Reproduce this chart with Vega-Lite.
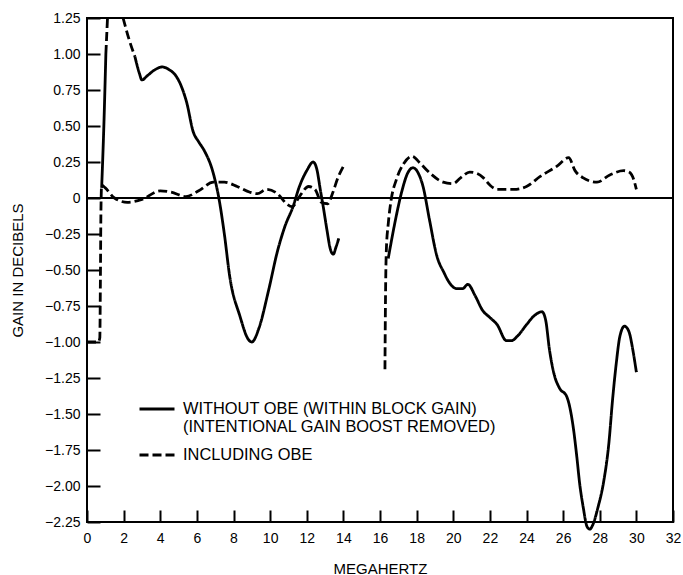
{
  "$schema": "https://vega.github.io/schema/vega-lite/v6.json",
  "width": 586,
  "height": 504,
  "autosize": "none",
  "padding": {"left": 87, "top": 18, "right": 10, "bottom": 53},
  "background": "white",
  "config": {
    "view": {"stroke": "black", "strokeWidth": 2},
    "font": "Liberation Sans"
  },
  "data": {
    "values": [
      {"s": "with", "g": "d1", "x": 0, "y": -1.0},
      {"s": "with", "g": "d1", "x": 0.62, "y": -1.0},
      {"s": "with", "g": "d1", "x": 0.7, "y": -0.97},
      {"s": "with", "g": "d1", "x": 0.73, "y": -0.6},
      {"s": "with", "g": "d1", "x": 0.76, "y": -0.1},
      {"s": "with", "g": "d1", "x": 0.8, "y": 0.09},
      {"s": "with", "g": "d1", "x": 1.0, "y": 0.07},
      {"s": "with", "g": "d1", "x": 1.5, "y": 0.0},
      {"s": "with", "g": "d1", "x": 2.2, "y": -0.03},
      {"s": "with", "g": "d1", "x": 3.0, "y": -0.01},
      {"s": "with", "g": "d1", "x": 4.0, "y": 0.05},
      {"s": "with", "g": "d1", "x": 4.6, "y": 0.04},
      {"s": "with", "g": "d1", "x": 5.4, "y": 0.01},
      {"s": "with", "g": "d1", "x": 6.1, "y": 0.05},
      {"s": "with", "g": "d1", "x": 6.9, "y": 0.11},
      {"s": "with", "g": "d1", "x": 7.5, "y": 0.11},
      {"s": "with", "g": "d1", "x": 8.2, "y": 0.08},
      {"s": "with", "g": "d1", "x": 8.9, "y": 0.04},
      {"s": "with", "g": "d1", "x": 9.3, "y": 0.03},
      {"s": "with", "g": "d1", "x": 9.8, "y": 0.06},
      {"s": "with", "g": "d1", "x": 10.4, "y": 0.03},
      {"s": "with", "g": "d1", "x": 10.9, "y": -0.04},
      {"s": "with", "g": "d1", "x": 11.2, "y": -0.06},
      {"s": "with", "g": "d1", "x": 11.6, "y": 0.01},
      {"s": "with", "g": "d1", "x": 12.1, "y": 0.08},
      {"s": "with", "g": "d1", "x": 12.45, "y": 0.06},
      {"s": "with", "g": "d1", "x": 12.8, "y": -0.03},
      {"s": "with", "g": "d1", "x": 13.15, "y": -0.04},
      {"s": "with", "g": "d1", "x": 13.4, "y": 0.03},
      {"s": "with", "g": "d1", "x": 13.7, "y": 0.14},
      {"s": "with", "g": "d1", "x": 14.0, "y": 0.22},
      {"s": "with", "g": "d2", "x": 1.03, "y": 1.0},
      {"s": "with", "g": "d2", "x": 1.12, "y": 1.25},
      {"s": "with", "g": "d3", "x": 1.97, "y": 1.25},
      {"s": "with", "g": "d3", "x": 2.3, "y": 1.1},
      {"s": "with", "g": "d3", "x": 2.62, "y": 0.98},
      {"s": "with", "g": "d4", "x": 16.27, "y": -1.19},
      {"s": "with", "g": "d4", "x": 16.3, "y": -0.7},
      {"s": "with", "g": "d4", "x": 16.35, "y": -0.35},
      {"s": "with", "g": "d4", "x": 16.45, "y": -0.18},
      {"s": "with", "g": "d4", "x": 16.6, "y": -0.02},
      {"s": "with", "g": "d4", "x": 16.9, "y": 0.13},
      {"s": "with", "g": "d4", "x": 17.3, "y": 0.24},
      {"s": "with", "g": "d4", "x": 17.75, "y": 0.29},
      {"s": "with", "g": "d4", "x": 18.2, "y": 0.24},
      {"s": "with", "g": "d4", "x": 18.75, "y": 0.17},
      {"s": "with", "g": "d4", "x": 19.45, "y": 0.11},
      {"s": "with", "g": "d4", "x": 20.0, "y": 0.1},
      {"s": "with", "g": "d4", "x": 20.4, "y": 0.14},
      {"s": "with", "g": "d4", "x": 20.9, "y": 0.18},
      {"s": "with", "g": "d4", "x": 21.3, "y": 0.17},
      {"s": "with", "g": "d4", "x": 21.65, "y": 0.14},
      {"s": "with", "g": "d4", "x": 22.0, "y": 0.09},
      {"s": "with", "g": "d4", "x": 22.4, "y": 0.06},
      {"s": "with", "g": "d4", "x": 23.3, "y": 0.06},
      {"s": "with", "g": "d4", "x": 24.0, "y": 0.08},
      {"s": "with", "g": "d4", "x": 24.75, "y": 0.15},
      {"s": "with", "g": "d4", "x": 25.65, "y": 0.22},
      {"s": "with", "g": "d4", "x": 26.3, "y": 0.28},
      {"s": "with", "g": "d4", "x": 26.65, "y": 0.19},
      {"s": "with", "g": "d4", "x": 27.1, "y": 0.14},
      {"s": "with", "g": "d4", "x": 27.85, "y": 0.11},
      {"s": "with", "g": "d4", "x": 28.55, "y": 0.16},
      {"s": "with", "g": "d4", "x": 29.3, "y": 0.19},
      {"s": "with", "g": "d4", "x": 29.6, "y": 0.18},
      {"s": "with", "g": "d4", "x": 29.85, "y": 0.13},
      {"s": "with", "g": "d4", "x": 30.0, "y": 0.06},
      {"s": "without", "g": "s1", "x": 0.8, "y": 0.07},
      {"s": "without", "g": "s1", "x": 0.92, "y": 0.5},
      {"s": "without", "g": "s1", "x": 1.03, "y": 1.0},
      {"s": "without", "g": "s2", "x": 2.62, "y": 0.98},
      {"s": "without", "g": "s2", "x": 2.85, "y": 0.87},
      {"s": "without", "g": "s2", "x": 3.0, "y": 0.82},
      {"s": "without", "g": "s2", "x": 3.3, "y": 0.85},
      {"s": "without", "g": "s2", "x": 3.7, "y": 0.89},
      {"s": "without", "g": "s2", "x": 4.1, "y": 0.91},
      {"s": "without", "g": "s2", "x": 4.5, "y": 0.89},
      {"s": "without", "g": "s2", "x": 4.9, "y": 0.84},
      {"s": "without", "g": "s2", "x": 5.2, "y": 0.76},
      {"s": "without", "g": "s2", "x": 5.45, "y": 0.66},
      {"s": "without", "g": "s2", "x": 5.8, "y": 0.46},
      {"s": "without", "g": "s2", "x": 6.1, "y": 0.39},
      {"s": "without", "g": "s2", "x": 6.4, "y": 0.33},
      {"s": "without", "g": "s2", "x": 6.9, "y": 0.17},
      {"s": "without", "g": "s2", "x": 7.2, "y": 0.0},
      {"s": "without", "g": "s2", "x": 7.5, "y": -0.25},
      {"s": "without", "g": "s2", "x": 7.8, "y": -0.55},
      {"s": "without", "g": "s2", "x": 8.35, "y": -0.82},
      {"s": "without", "g": "s2", "x": 8.8, "y": -0.98},
      {"s": "without", "g": "s2", "x": 9.0, "y": -1.0},
      {"s": "without", "g": "s2", "x": 9.4, "y": -0.9},
      {"s": "without", "g": "s2", "x": 9.9, "y": -0.65},
      {"s": "without", "g": "s2", "x": 10.4, "y": -0.37},
      {"s": "without", "g": "s2", "x": 10.8, "y": -0.2},
      {"s": "without", "g": "s2", "x": 11.25, "y": -0.06},
      {"s": "without", "g": "s2", "x": 11.6, "y": 0.08},
      {"s": "without", "g": "s2", "x": 12.0, "y": 0.19},
      {"s": "without", "g": "s2", "x": 12.35, "y": 0.25},
      {"s": "without", "g": "s2", "x": 12.55, "y": 0.2},
      {"s": "without", "g": "s2", "x": 12.75, "y": 0.05},
      {"s": "without", "g": "s2", "x": 12.9, "y": -0.06},
      {"s": "without", "g": "s2", "x": 13.1, "y": -0.22},
      {"s": "without", "g": "s2", "x": 13.3, "y": -0.36},
      {"s": "without", "g": "s2", "x": 13.45, "y": -0.39},
      {"s": "without", "g": "s2", "x": 13.6, "y": -0.34},
      {"s": "without", "g": "s2", "x": 13.75, "y": -0.28},
      {"s": "without", "g": "s3", "x": 16.45, "y": -0.42},
      {"s": "without", "g": "s3", "x": 16.8, "y": -0.18},
      {"s": "without", "g": "s3", "x": 17.2, "y": 0.05},
      {"s": "without", "g": "s3", "x": 17.5, "y": 0.17},
      {"s": "without", "g": "s3", "x": 17.8, "y": 0.21},
      {"s": "without", "g": "s3", "x": 18.1, "y": 0.17},
      {"s": "without", "g": "s3", "x": 18.35, "y": 0.08},
      {"s": "without", "g": "s3", "x": 18.7, "y": -0.15},
      {"s": "without", "g": "s3", "x": 19.1, "y": -0.4},
      {"s": "without", "g": "s3", "x": 19.5, "y": -0.52},
      {"s": "without", "g": "s3", "x": 19.8, "y": -0.59},
      {"s": "without", "g": "s3", "x": 20.2, "y": -0.63},
      {"s": "without", "g": "s3", "x": 20.5, "y": -0.63},
      {"s": "without", "g": "s3", "x": 20.8, "y": -0.6},
      {"s": "without", "g": "s3", "x": 21.2, "y": -0.68},
      {"s": "without", "g": "s3", "x": 21.6, "y": -0.78},
      {"s": "without", "g": "s3", "x": 22.0, "y": -0.83},
      {"s": "without", "g": "s3", "x": 22.4, "y": -0.88},
      {"s": "without", "g": "s3", "x": 22.9, "y": -0.99},
      {"s": "without", "g": "s3", "x": 23.2, "y": -0.99},
      {"s": "without", "g": "s3", "x": 23.5, "y": -0.96},
      {"s": "without", "g": "s3", "x": 24.0, "y": -0.88},
      {"s": "without", "g": "s3", "x": 24.4, "y": -0.82},
      {"s": "without", "g": "s3", "x": 24.85, "y": -0.79},
      {"s": "without", "g": "s3", "x": 25.05, "y": -0.85},
      {"s": "without", "g": "s3", "x": 25.25, "y": -1.05},
      {"s": "without", "g": "s3", "x": 25.5, "y": -1.22},
      {"s": "without", "g": "s3", "x": 25.8, "y": -1.32},
      {"s": "without", "g": "s3", "x": 26.2, "y": -1.38},
      {"s": "without", "g": "s3", "x": 26.55, "y": -1.59},
      {"s": "without", "g": "s3", "x": 26.75, "y": -1.8},
      {"s": "without", "g": "s3", "x": 26.9, "y": -1.98},
      {"s": "without", "g": "s3", "x": 27.1, "y": -2.15},
      {"s": "without", "g": "s3", "x": 27.3, "y": -2.28},
      {"s": "without", "g": "s3", "x": 27.45, "y": -2.3},
      {"s": "without", "g": "s3", "x": 27.65, "y": -2.26},
      {"s": "without", "g": "s3", "x": 27.9, "y": -2.15},
      {"s": "without", "g": "s3", "x": 28.2, "y": -1.98},
      {"s": "without", "g": "s3", "x": 28.5, "y": -1.7},
      {"s": "without", "g": "s3", "x": 28.7, "y": -1.4},
      {"s": "without", "g": "s3", "x": 28.9, "y": -1.15},
      {"s": "without", "g": "s3", "x": 29.1, "y": -0.96},
      {"s": "without", "g": "s3", "x": 29.35, "y": -0.89},
      {"s": "without", "g": "s3", "x": 29.6, "y": -0.93},
      {"s": "without", "g": "s3", "x": 29.8, "y": -1.05},
      {"s": "without", "g": "s3", "x": 30.0, "y": -1.21}
    ]
  },
  "encoding": {
    "x": {
      "field": "x", "type": "quantitative",
      "scale": {"domain": [0, 32], "nice": false, "zero": false},
      "axis": {"title": "MEGAHERTZ", "values": [0,2,4,6,8,10,12,14,16,18,20,22,24,26,28,30,32], "grid": false, "domain": false, "labelFlush": false, "labelOverlap": false, "ticks": true, "tickSize": -12, "tickWidth": 2, "tickColor": "black", "tickOpacity": 1, "zindex": 2, "labelColor": "black", "labelFont": "Liberation Sans", "labelFontSize": 14, "labelPadding": 21, "titleColor": "black", "titleFont": "Liberation Sans", "titleFontWeight": "normal", "titleFontSize": 15, "titleY": 46, "titleBaseline": "middle"}
    },
    "y": {
      "field": "y", "type": "quantitative",
      "scale": {"domain": [-2.25, 1.25], "nice": false, "zero": false},
      "axis": {"title": "GAIN IN DECIBELS", "values": [-2.25,-2,-1.75,-1.5,-1.25,-1,-0.75,-0.5,-0.25,0,0.25,0.5,0.75,1,1.25], "grid": false, "domain": false, "labelOverlap": false, "labelFlush": false, "labelExpr": "datum.value == 0 ? '0' : format(datum.value, '.2f')", "ticks": true, "tickSize": -13, "tickWidth": 2, "tickColor": "black", "tickOpacity": 1, "zindex": 2, "labelColor": "black", "labelFont": "Liberation Sans", "labelFontSize": 14, "labelPadding": 20, "titleColor": "black", "titleFont": "Liberation Sans", "titleFontWeight": "normal", "titleFontSize": 15, "titleX": -70, "titleY": 252, "titleBaseline": "middle"}
    }
  },
  "layer": [
    {
      "mark": {"type": "line", "color": "black", "strokeWidth": 2.8, "interpolate": "monotone", "clip": false},
      "encoding": {
        "detail": {"field": "g"},
        "order": {"field": "x", "type": "quantitative"},
        "strokeDash": {
          "field": "s", "type": "nominal",
          "scale": {"domain": ["without", "with"], "range": [[1, 0], [9, 4]]},
          "legend": {
            "title": null, "orient": "none", "legendX": 51, "legendY": 372,
            "symbolType": "stroke", "symbolSize": 1225, "symbolStrokeWidth": 2.8, "symbolStrokeColor": "black",
            "labelFontSize": 16.4, "labelFont": "Liberation Sans", "labelColor": "black", "labelLimit": 400,
            "labelOffset": 7, "rowPadding": -13, "padding": 0,
            "labelExpr": "datum.value == 'without' ? ['WITHOUT OBE (WITHIN BLOCK GAIN)', '(INTENTIONAL GAIN BOOST REMOVED)'] : 'INCLUDING OBE'"
          }
        }
      }
    },
    {
      "mark": {"type": "rule", "color": "black", "strokeWidth": 1.8},
      "encoding": {"x": {"value": 0}, "x2": {"value": 586}, "y": {"datum": 0, "type": "quantitative"}}
    }
  ]
}
